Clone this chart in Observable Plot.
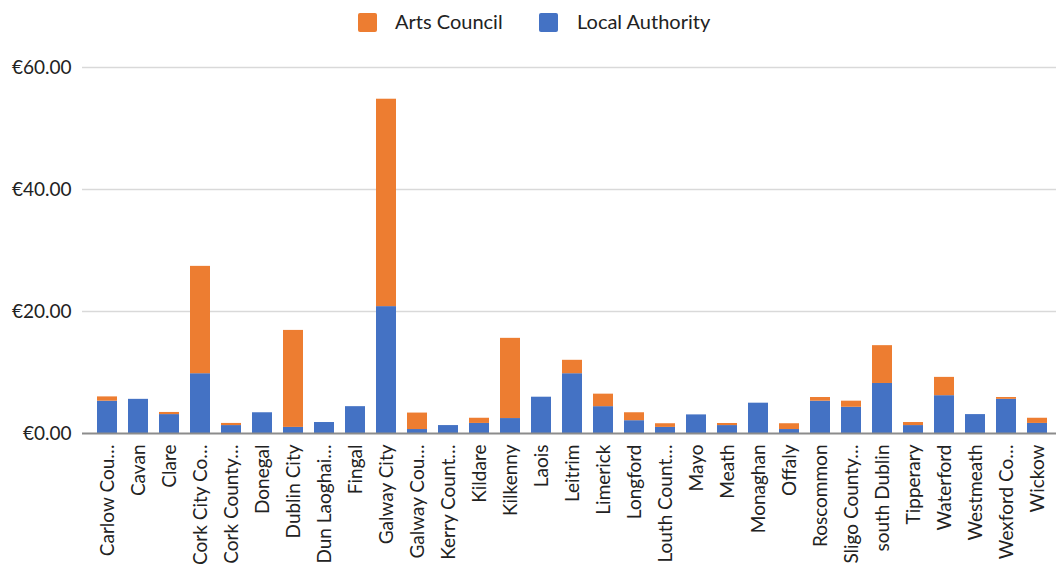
<!DOCTYPE html>
<html>
<head>
<meta charset="utf-8">
<script src="https://cdn.jsdelivr.net/npm/d3@7"></script>
<script src="https://cdn.jsdelivr.net/npm/@observablehq/plot@0.6"></script>
<style>
  html, body { margin: 0; padding: 0; background: #fff; }
  #wrap { width: 1056px; height: 571px; position: relative; overflow: hidden; font-family: Lato, "Open Sans", sans-serif; }
  #legend { position: relative; height: 40px; width: 1056px; }
  .sw { position: absolute; top: 13px; width: 19px; height: 19px; border-radius: 2px; }
  .lt { position: absolute; top: 9px; font-size: 20px; line-height: 24px; color: #222; white-space: nowrap; }
  svg { display: block; }
</style>
</head>
<body>
<div id="wrap">
  <div id="legend"></div>
  <div id="chart"></div>
</div>
<script>
// Tick labels as displayed (truncated in the original)
const categories = [
  "Carlow Cou…", "Cavan", "Clare", "Cork City Co…", "Cork County…", "Donegal",
  "Dublin City", "Dun Laoghai…", "Fingal", "Galway City", "Galway Cou…",
  "Kerry Count…", "Kildare", "Kilkenny", "Laois", "Leitrim", "Limerick",
  "Longford", "Louth Count…", "Mayo", "Meath", "Monaghan", "Offaly",
  "Roscommon", "Sligo County…", "south Dublin", "Tipperary", "Waterford",
  "Westmeath", "Wexford Co…", "Wickow"
];
const localAuthority = [
  5.3, 5.6, 3.1, 9.8, 1.3, 3.4,
  1.0, 1.8, 4.4, 20.8, 0.65,
  1.3, 1.65, 2.45, 5.95, 9.8, 4.4,
  2.1, 1.0, 3.05, 1.3, 4.97, 0.65,
  5.3, 4.3, 8.2, 1.3, 6.2,
  3.1, 5.6, 1.65
];
const artsCouncil = [
  0.7, 0, 0.35, 17.6, 0.35, 0,
  15.9, 0, 0, 34.0, 2.7,
  0, 0.85, 13.15, 0, 2.2, 2.05,
  1.3, 0.6, 0, 0.34, 0, 0.95,
  0.6, 1.0, 6.2, 0.5, 3.0,
  0, 0.3, 0.85
];
const seriesNames = ["Local Authority", "Arts Council"];
const seriesColors = ["#4472C4", "#ED7D31"];
const yTicks = [0, 20, 40, 60];

// legend
const legend = document.getElementById("legend");
const legendItems = [
  {name: "Arts Council", color: "#ED7D31", sx: 358, tx: 395},
  {name: "Local Authority", color: "#4472C4", sx: 539, tx: 577}
];
for (const it of legendItems) {
  const s = document.createElement("div");
  s.className = "sw"; s.style.left = it.sx + "px"; s.style.background = it.color;
  legend.appendChild(s);
  const t = document.createElement("div");
  t.className = "lt"; t.style.left = it.tx + "px"; t.textContent = it.name;
  legend.appendChild(t);
}

const data = [];
categories.forEach((c, i) => {
  data.push({category: c, series: "Local Authority", value: localAuthority[i]});
  data.push({category: c, series: "Arts Council", value: artsCouncil[i]});
});

const chart = Plot.plot({
  width: 1056,
  height: 531,
  marginLeft: 82,
  marginRight: 0,
  marginTop: 27,
  marginBottom: 138,
  style: {fontFamily: "Lato, 'Open Sans', sans-serif", fontSize: "19px", color: "#222", background: "#fff"},
  x: {domain: categories, range: [93.7, 1051.3], paddingInner: 0.34, paddingOuter: 0, label: null},
  y: {domain: [0, 60], label: null},
  color: {domain: seriesNames, range: seriesColors},
  marks: [
    Plot.ruleY(yTicks.filter(d => d > 0), {stroke: "#d9d9d9", strokeWidth: 1.5}),
    Plot.barY(data, {x: "category", y: "value", fill: "series", order: seriesNames}),
    Plot.ruleY([0], {stroke: "#8c8c8c", strokeWidth: 2}),
    Plot.axisY({ticks: yTicks, tickSize: 0, tickPadding: 11, tickFormat: d => "€" + d3.format(".2f")(d), label: null}),
    Plot.axisX({tickSize: 0, tickPadding: 11, tickRotate: -90, label: null})
  ]
});
document.getElementById("chart").appendChild(chart);
</script>
</body>
</html>
